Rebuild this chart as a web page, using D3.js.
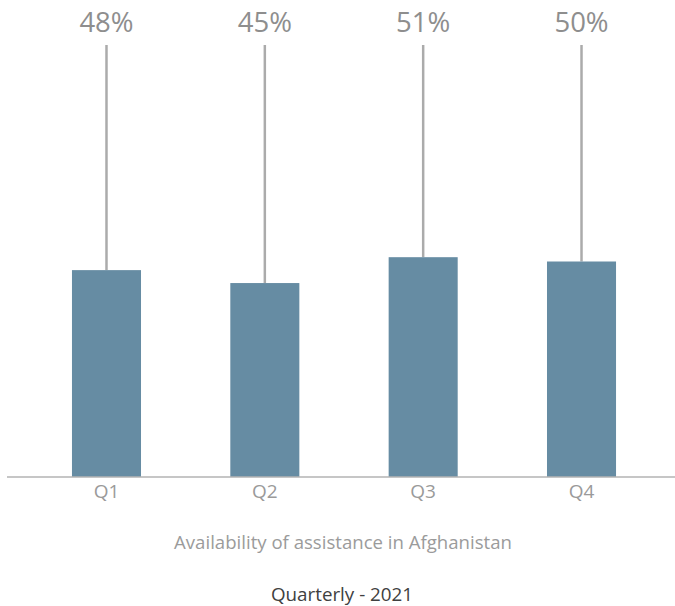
<!DOCTYPE html>
<html>
<head>
<meta charset="utf-8">
<script src="https://cdn.jsdelivr.net/npm/d3@7"></script>
<style>
  html, body { margin: 0; padding: 0; background: #fff; }
  svg { display: block; }
</style>
</head>
<body>
<svg id="chart" width="675" height="606"></svg>
<script>
// Share of respondents reporting assistance available, by quarter of 2021
const quarters = ["Q1", "Q2", "Q3", "Q4"];
const values = [48, 45, 51, 50];
const valueLabels = ["48%", "45%", "51%", "50%"];
const chartTitle = "Availability of assistance in Afghanistan";
const chartSubtitle = "Quarterly - 2021";

const svg = d3.select("#chart");
const font = "'Open Sans', 'Liberation Sans', sans-serif";

const baseline = 477;
const x = d3.scaleBand()
  .domain(quarters)
  .range([8, 680])
  .paddingInner(0.564)
  .paddingOuter(0.404);

const y = d3.scaleLinear().domain([0, 100]).range([baseline, 46]);

const data = quarters.map((q, i) => ({ q, v: values[i], label: valueLabels[i] }));

// Leader lines from the top of the plot to each bar
svg.append("g").selectAll("line")
  .data(data)
  .join("line")
  .attr("x1", d => x(d.q) + x.bandwidth() / 2)
  .attr("x2", d => x(d.q) + x.bandwidth() / 2)
  .attr("y1", y(100) - 1)
  .attr("y2", d => y(d.v))
  .attr("stroke", "#ababab")
  .attr("stroke-width", 2.5);

// Bars
svg.append("g").selectAll("rect")
  .data(data)
  .join("rect")
  .attr("x", d => x(d.q))
  .attr("y", d => y(d.v))
  .attr("width", x.bandwidth())
  .attr("height", d => baseline - y(d.v))
  .attr("fill", "#668ca3");

// Value labels at the top
svg.append("g").selectAll("text")
  .data(data)
  .join("text")
  .attr("x", d => x(d.q) + x.bandwidth() / 2)
  .attr("y", 32)
  .attr("text-anchor", "middle")
  .attr("font-family", font)
  .attr("font-size", 27.5)
  .attr("fill", "#8e8e8e")
  .text(d => d.label);

// Category axis
const axis = svg.append("g")
  .attr("transform", `translate(0,${baseline})`)
  .call(d3.axisBottom(x).tickSize(0).tickPadding(8));
axis.select(".domain").remove();
axis.append("line")
  .attr("x1", 7).attr("x2", 675)
  .attr("stroke", "#b3b3b3")
  .attr("stroke-width", 1.5);
axis.selectAll(".tick text")
  .attr("font-family", font)
  .attr("font-size", 19)
  .attr("fill", "#9a9a9a");

// Titles
svg.append("text")
  .attr("x", 343).attr("y", 549)
  .attr("text-anchor", "middle")
  .attr("font-family", font)
  .attr("font-size", 18.6)
  .attr("fill", "#9b9b9b")
  .text(chartTitle);

svg.append("text")
  .attr("x", 342).attr("y", 601)
  .attr("text-anchor", "middle")
  .attr("font-family", font)
  .attr("font-size", 18.8)
  .attr("fill", "#404040")
  .text(chartSubtitle);
</script>
</body>
</html>
